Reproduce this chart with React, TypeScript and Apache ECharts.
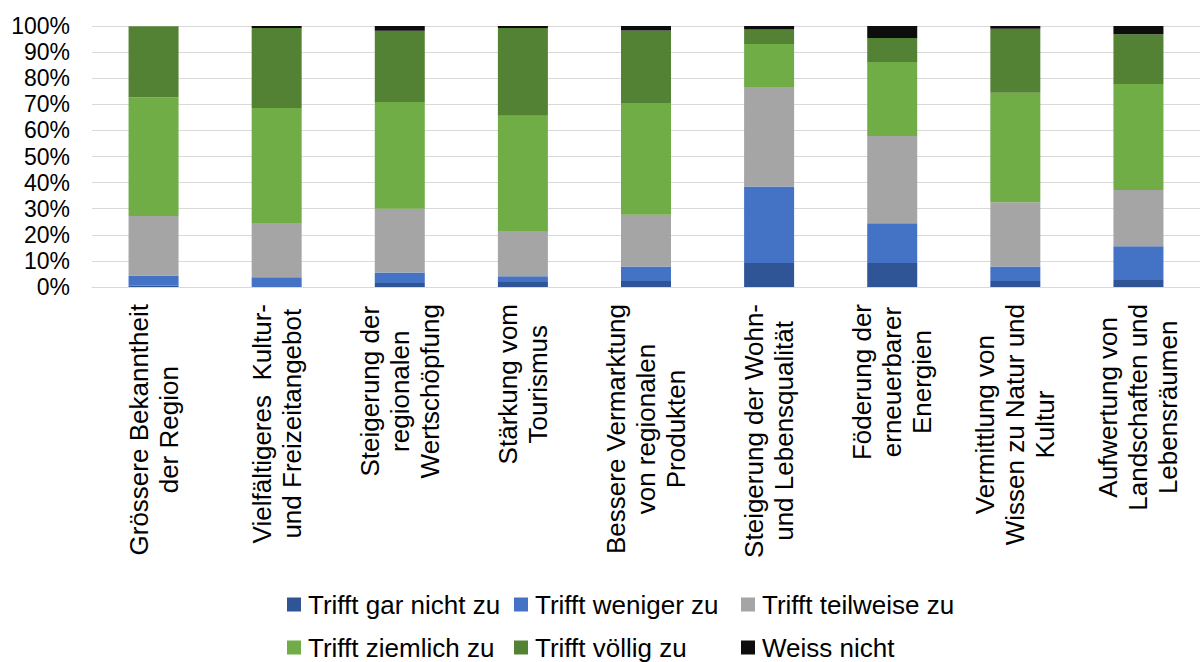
import React, { useEffect, useRef } from "react";
import * as echarts from "echarts";

const categories = [
  "Grössere Bekanntheit\nder Region",
  "Vielfältigeres  Kultur-\nund Freizeitangebot",
  "Steigerung der\nregionalen\nWertschöpfung",
  "Stärkung vom\nTourismus",
  "Bessere Vermarktung\nvon regionalen\nProdukten",
  "Steigerung der Wohn-\nund Lebensqualität",
  "Föderung der\nerneuerbarer\nEnergien",
  "Vermittlung von\nWissen zu Natur und\nKultur",
  "Aufwertung von\nLandschaften und\nLebensräumen",
];

const seriesNames = [
  "Trifft gar nicht zu",
  "Trifft weniger zu",
  "Trifft teilweise zu",
  "Trifft ziemlich zu",
  "Trifft völlig zu",
  "Weiss nicht",
];

const garNicht = [0.6, 0, 1.5, 1.9, 2.3, 9.2, 9.2, 2.3, 2.7];
const weniger = [3.8, 3.7, 4.1, 2.2, 5.6, 29.3, 15.2, 5.6, 12.9];
const teilweise = [22.8, 20.8, 24.4, 17.1, 19.8, 37.8, 33.5, 24.6, 21.6];
const ziemlich = [45.5, 44.1, 40.9, 44.4, 42.8, 16.8, 28.3, 41.9, 40.6];
const voellig = [27.2, 30.6, 27.3, 33.6, 27.8, 5.6, 9.2, 24.5, 19.0];
const weissNicht = [0, 0.8, 1.8, 0.8, 1.7, 1.3, 4.6, 1.1, 3.2];

const colors = ["#2F5597", "#4472C4", "#A5A5A5", "#70AD47", "#548235", "#0D0D0D"];

const FONT = "'Liberation Sans', Arial, sans-serif";

export default function App() {
  const ref = useRef<HTMLDivElement>(null);
  useEffect(() => {
    if (!ref.current) return;
    const chart = echarts.init(ref.current, undefined, { renderer: "svg" });
    const values = [garNicht, weniger, teilweise, ziemlich, voellig, weissNicht];
    chart.setOption({
      animation: false,
      textStyle: { fontFamily: FONT },
      grid: { left: 92, right: -12, top: 26, bottom: 375, containLabel: false },
      legend: {
        left: 287,
        top: 583,
        width: 700,
        padding: 0,
        itemWidth: 14,
        itemHeight: 14,
        itemGap: 0,
        icon: "rect",
        textStyle: {
          fontFamily: FONT,
          fontSize: 26,
          color: "#000",
          width: 206,
          lineHeight: 43,
          padding: [0, 0, 0, 2],
        },
        data: seriesNames,
      },
      xAxis: {
        type: "category",
        data: categories,
        axisLine: { lineStyle: { color: "#D9D9D9", width: 1 } },
        axisTick: { show: false },
        axisLabel: {
          rotate: 90,
          interval: 0,
          margin: 17,
          color: "#000",
          fontFamily: FONT,
          fontSize: 26,
          lineHeight: 30,
          formatter: (v: string) =>
            v
              .split("\n")
              .map((l) => "{c|" + l + "}")
              .join("\n"),
          rich: {
            c: {
              align: "center",
              fontFamily: FONT,
              fontSize: 26,
              lineHeight: 30,
              color: "#000",
            },
          },
        },
      },
      yAxis: {
        type: "value",
        min: 0,
        max: 100,
        interval: 10,
        axisLine: { show: false },
        axisTick: { show: false },
        splitLine: { lineStyle: { color: "#D9D9D9", width: 1 } },
        axisLabel: {
          formatter: "{value}%",
          margin: 22,
          color: "#000",
          fontFamily: FONT,
          fontSize: 23,
        },
      },
      series: seriesNames.map((name, i) => ({
        name,
        type: "bar",
        stack: "total",
        barWidth: 50,
        data: values[i],
        itemStyle: { color: colors[i] },
      })),
    });
    return () => chart.dispose();
  }, []);
  return (
    <div
      ref={ref}
      style={{ position: "absolute", left: 0, top: 0, width: 1200, height: 662 }}
    />
  );
}
